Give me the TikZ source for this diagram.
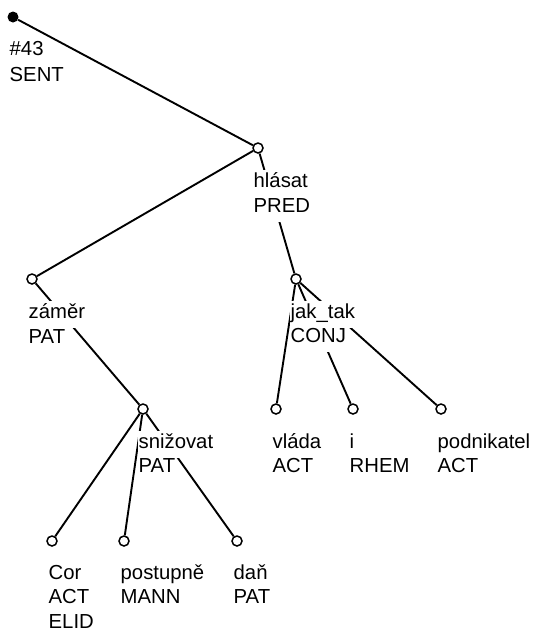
\documentclass[tikz,border=0pt]{standalone}
\usepackage{fontspec}
\setmainfont{Liberation Sans}
\usepackage{tikz}
\newcommand{\tlfont}{\fontsize{20.3}{24.5}\selectfont}

\begin{document}
\begin{tikzpicture}[
  x=1pt, y=-1pt,
  tnode/.style={circle, draw, fill=white, line width=1.5pt, inner sep=0pt, minimum size=10pt},
  rootnode/.style={circle, fill=black, inner sep=0pt, minimum size=11pt},
  lbl/.style={anchor=base west, fill=white, inner xsep=0.5pt, inner ysep=0pt,
              text height=17pt, text depth=10pt, font=\tlfont},
  link/.style={line width=1.9pt},
]
  \useasboundingbox (0,0) rectangle (533,632);

  % tree nodes
  \node[rootnode] (root) at (13,17) {};
  \node[tnode] (hlasat) at (258,148) {};
  \node[tnode] (zamer) at (32,279) {};
  \node[tnode] (jaktak) at (296,279) {};
  \node[tnode] (snizovat) at (143,409) {};
  \node[tnode] (vlada) at (276,409) {};
  \node[tnode] (irhem) at (353,409) {};
  \node[tnode] (podnikatel) at (441,409) {};
  \node[tnode] (cor) at (52,541) {};
  \node[tnode] (postupne) at (124,541) {};
  \node[tnode] (dan) at (237,541) {};

  % edges
  \draw[link] (root) -- (hlasat);
  \draw[link] (hlasat) -- (zamer);
  \draw[link] (hlasat) -- (jaktak);
  \draw[link] (zamer) -- (snizovat);
  \draw[link] (snizovat) -- (cor);
  \draw[link] (snizovat) -- (postupne);
  \draw[link] (snizovat) -- (dan);
  \draw[link] (jaktak) -- (vlada);
  \draw[link] (jaktak) -- (irhem);
  \draw[link] (jaktak) -- (podnikatel);

  % labels, one line each, drawn over the edges
  \node[lbl] (root-a) at (9,55) {\#43};
  \node[lbl] (root-b) at (9,81) {SENT};
  \node[lbl] (hlasat-a) at (253,187) {hlásat};
  \node[lbl] (hlasat-b) at (253,212) {PRED};
  \node[lbl] (zamer-a) at (28,318) {záměr};
  \node[lbl] (zamer-b) at (28,343) {PAT};
  \node[lbl] (jaktak-a) at (290,318) {jak\_tak};
  \node[lbl] (jaktak-b) at (290,342) {CONJ};
  \node[lbl] (snizovat-a) at (138,448) {snižovat};
  \node[lbl] (snizovat-b) at (138,472) {PAT};
  \node[lbl] (vlada-a) at (272,448) {vláda};
  \node[lbl] (vlada-b) at (272,472) {ACT};
  \node[lbl] (irhem-a) at (349,448) {i};
  \node[lbl] (irhem-b) at (349,472) {RHEM};
  \node[lbl] (podnikatel-a) at (437,448) {podnikatel};
  \node[lbl] (podnikatel-b) at (437,472) {ACT};
  \node[lbl] (cor-a) at (48,579) {Cor};
  \node[lbl] (cor-b) at (48,603) {ACT};
  \node[lbl] (cor-c) at (48,628) {ELID};
  \node[lbl] (postupne-a) at (120,579) {postupně};
  \node[lbl] (postupne-b) at (120,603) {MANN};
  \node[lbl] (dan-a) at (233,579) {daň};
  \node[lbl] (dan-b) at (233,603) {PAT};
\end{tikzpicture}
\end{document}
